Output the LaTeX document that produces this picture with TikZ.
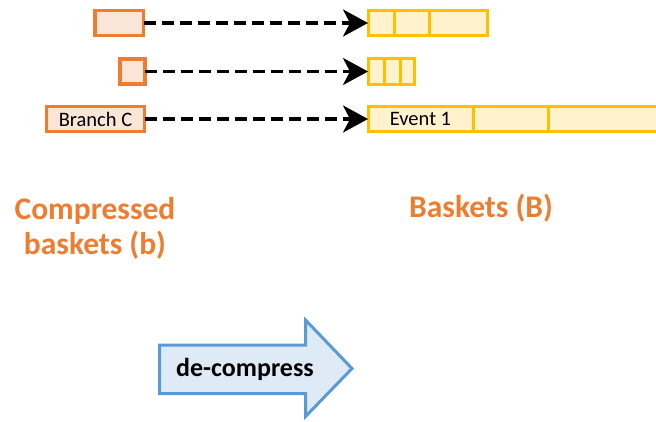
\documentclass[tikz,border=0pt]{standalone}
\usepackage{fontspec}
\setmainfont{Carlito}
\usetikzlibrary{arrows.meta}

\definecolor{orangeline}{HTML}{ED7D31}
\definecolor{orangefill}{HTML}{FBE5D6}
\definecolor{goldline}{HTML}{FFC000}
\definecolor{goldfill}{HTML}{FFF2CC}
\definecolor{blueline}{HTML}{5B9BD5}
\definecolor{bluefill}{HTML}{DEEBF7}

\tikzset{
  cbasket/.style={draw=orangeline, fill=orangefill, line width=3.2pt,
    inner sep=0pt, outer sep=0pt},
  ubasket/.style={draw=goldline, fill=goldfill, line width=3pt,
    inner sep=0pt, outer sep=0pt},
  divider/.style={draw=goldline, line width=3pt},
  flow/.style={line width=3.2pt, dash pattern=on 12pt off 6pt,
    -{Stealth[length=25pt, width=27pt, inset=7pt]}},
  boxtext/.style={font=\fontsize{20.5}{24}\selectfont, inner sep=0pt},
  heading/.style={font=\fontsize{31.5}{35}\selectfont\bfseries,
    text=orangeline, align=center, inner sep=0pt},
}

\begin{document}
\begin{tikzpicture}[x=1pt, y=-1pt]
  \clip (0,0) rectangle (656,422);
  \fill[white] (0,0) rectangle (656,422);

  % compressed baskets
  \node[cbasket, minimum width=48.5pt, minimum height=24.5pt] (b1) at (119.25,23) {};
  \node[cbasket, minimum width=25pt, minimum height=25pt] (b2) at (132.5,71.5) {};
  \node[cbasket, minimum width=98pt, minimum height=25pt] (b3) at (95.5,119) {};
  \node[boxtext] (bl3) at (b3.center) {Branch C};

  % uncompressed baskets
  \node[ubasket, minimum width=119.5pt, minimum height=25pt] (u1) at (427.75,23) {};
  \draw[divider] (394,11) -- (394,35);
  \draw[divider] (429,11) -- (429,35);

  \node[ubasket, minimum width=46.5pt, minimum height=25.5pt] (u2) at (391.25,71.5) {};
  \draw[divider] (384,59) -- (384,84);
  \draw[divider] (400,59) -- (400,84);

  \node[ubasket, minimum width=294pt, minimum height=25pt] (u3) at (515,119) {};
  \draw[divider] (473,107) -- (473,131);
  \draw[divider] (548,107) -- (548,131);
  \node[boxtext] (ev1) at (420.5,119) {Event 1};

  % dashed connectors
  \draw[flow] (b1.east) -- (u1.west);
  \draw[flow] (b2.east) -- (u2.west);
  \draw[flow] (b3.east) -- (u3.west);

  % headings
  \node[heading] (hc) at (95,228.5) {Compressed\\baskets (b)};
  \node[heading, anchor=base] (hu) at (481,218) {Baskets (B)};

  % de-compress arrow
  \draw[draw=blueline, fill=bluefill, line width=3pt, line join=miter]
    (159.5,345) -- (305.5,345) -- (305.5,320) -- (352,368.5)
    -- (305.5,416.5) -- (305.5,393.5) -- (159.5,393.5) -- cycle;
  \node[font=\fontsize{26}{30}\selectfont\bfseries, inner sep=0pt] (dc) at (245,369) {de-compress};
\end{tikzpicture}
\end{document}
